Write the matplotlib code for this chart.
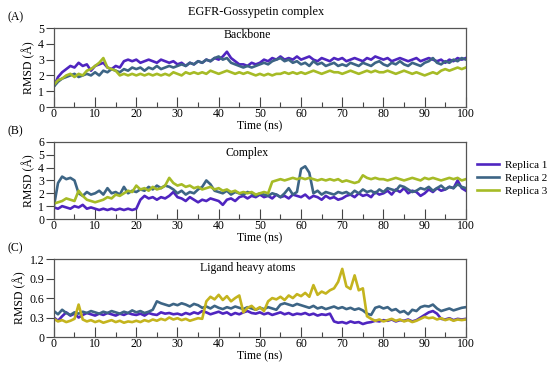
import numpy as np
import matplotlib
matplotlib.use("Agg")
import matplotlib.pyplot as plt
from matplotlib import font_manager
from matplotlib.ticker import MultipleLocator

installed = {f.name for f in font_manager.fontManager.ttflist}
serif = [n for n in ['Liberation Serif', 'Times New Roman', 'Nimbus Roman', 'DejaVu Serif']
         if n in installed]
plt.rcParams['font.family'] = serif + ['DejaVu Sans']

time = np.arange(0, 101)

# Backbone RMSD (A)
bb_r1 = [1.3, 1.9, 2.2, 2.4, 2.6, 2.5, 2.8, 2.6, 2.7, 2.3,
         2.6, 2.7, 2.8, 2.5, 2.4, 2.6, 2.5, 2.9, 3.0, 2.9,
         3.0, 2.8, 2.9, 3.0, 2.9, 2.8, 3.0, 2.9, 2.8, 2.9,
         2.7, 2.8, 2.6, 2.8, 2.7, 2.9, 2.8, 3.0, 2.9, 3.1,
         3.0, 3.2, 3.5, 3.1, 2.9, 2.7, 2.7, 2.6, 2.8, 2.7,
         2.8, 3.0, 2.9, 3.1, 3.0, 3.2, 3.0, 3.1, 3.0, 3.2,
         3.0, 3.1, 3.2, 3.0, 2.9, 3.1, 3.0, 2.9, 3.1, 3.0,
         3.1, 2.9, 3.0, 3.1, 3.0, 2.9, 3.1, 3.0, 3.2, 3.1,
         3.0, 3.1, 2.9, 3.0, 3.1, 3.0, 2.9, 3.0, 3.1, 2.9,
         3.0, 3.1, 3.0, 2.9, 3.0, 2.8, 3.0, 2.9, 3.1, 3.0,
         3.1]
bb_r2 = [1.3, 1.6, 1.8, 1.9, 2.0, 2.1, 1.9, 2.0, 2.1, 2.0,
         2.2, 2.0, 2.3, 2.2, 2.4, 2.3, 2.2, 2.4, 2.3, 2.5,
         2.4, 2.5, 2.3, 2.5, 2.4, 2.6, 2.4, 2.5, 2.6, 2.5,
         2.6, 2.7, 2.6, 2.8, 2.7, 2.9, 2.8, 3.0, 2.9, 3.1,
         3.2, 3.0, 3.1, 2.8, 2.7, 2.6, 2.5, 2.6, 2.5, 2.6,
         2.7, 2.8, 2.7, 2.9, 3.0, 3.1, 2.9, 3.0, 2.8, 2.9,
         2.7, 2.8, 2.6, 2.9, 2.7, 2.8, 2.6, 2.7, 2.8, 2.6,
         2.7, 2.6, 2.8, 2.7, 2.6, 2.8, 2.7, 2.6, 2.8, 2.9,
         2.7, 2.6, 2.8, 2.7, 2.9, 2.7, 2.6, 2.8, 2.7, 2.6,
         2.8, 2.9, 3.1, 2.8, 2.7, 2.9, 2.8, 3.0, 2.9, 3.1,
         3.0]
bb_r3 = [1.4, 1.7, 1.8, 2.0, 2.1, 1.9, 2.1, 2.0, 2.3, 2.4,
         2.6, 2.8, 3.1, 2.5, 2.4, 2.3, 2.0, 2.1, 2.0, 2.1,
         2.0, 2.1, 2.0, 2.1, 2.0, 2.1, 2.0, 2.1, 2.0, 2.2,
         2.1, 2.0, 2.2, 2.1, 2.2, 2.1, 2.2, 2.1, 2.3, 2.2,
         2.1, 2.2, 2.3, 2.2, 2.1, 2.2, 2.1, 2.2, 2.1, 2.0,
         2.1, 2.0, 2.1, 2.0, 2.1, 2.1, 2.2, 2.1, 2.2, 2.1,
         2.2, 2.1, 2.2, 2.3, 2.2, 2.1, 2.2, 2.3, 2.2, 2.2,
         2.1, 2.2, 2.3, 2.2, 2.1, 2.2, 2.3, 2.2, 2.3, 2.2,
         2.2, 2.3, 2.2, 2.1, 2.2, 2.3, 2.2, 2.1, 2.2, 2.1,
         2.0, 2.1, 2.2, 2.1, 2.3, 2.4, 2.3, 2.4, 2.5, 2.4,
         2.5]

# Complex RMSD (B)
cx_r1 = [0.9, 0.8, 1.0, 0.9, 0.8, 1.0, 0.9, 1.1, 0.8, 0.9,
         0.8, 0.7, 0.8, 0.7, 0.8, 0.7, 0.8, 0.7, 0.8, 0.7,
         0.8, 1.5, 1.8, 1.6, 1.7, 1.5, 1.7, 1.6, 1.8, 2.1,
         1.7, 1.6, 1.4, 1.7, 1.5, 1.3, 1.5, 1.4, 1.6, 1.5,
         1.4, 1.1, 1.5, 1.6, 1.4, 1.7, 1.8, 1.6, 1.8, 1.7,
         1.9, 1.7, 1.8, 1.6, 1.9, 1.7, 1.8, 1.6, 1.9, 1.8,
         1.7, 1.9, 1.6, 1.8, 1.7, 1.5, 1.8, 1.6, 1.7, 1.5,
         1.6, 1.8, 1.9, 1.7, 2.0, 1.8, 1.9, 1.7, 2.1, 1.9,
         2.0, 2.2, 1.9, 2.3, 2.1, 2.4, 2.0, 2.2, 2.1, 1.8,
         2.0, 2.3, 2.1, 2.4, 2.2, 2.3, 2.5, 2.4, 3.0, 2.4,
         2.2]
cx_r2 = [1.0, 2.8, 3.3, 3.1, 3.2, 3.0, 2.0, 1.8, 2.1, 1.9,
         2.0, 2.2, 1.9, 2.4, 2.0, 2.1, 1.9, 2.5, 2.0, 2.2,
         2.1, 2.3, 2.2, 2.5, 2.3, 2.6, 2.4, 2.6, 2.5, 2.3,
         2.0, 2.2, 1.9, 2.1, 2.0, 2.3, 2.5, 3.0, 2.7, 2.2,
         2.1, 2.0, 2.2, 1.9, 2.1, 2.0, 1.9, 2.1, 2.0, 1.8,
         2.0, 1.9, 1.8, 2.0, 1.9, 1.7, 2.0, 2.4, 1.9, 2.1,
         3.9, 4.1, 3.6, 2.0, 2.2, 1.9, 2.1, 2.0, 1.9, 2.1,
         2.0, 2.1, 1.9, 2.2, 2.0, 2.3, 2.1, 2.2, 2.0, 2.3,
         2.1, 2.4, 2.3, 2.2, 2.6, 2.5, 2.3, 2.1, 2.2, 2.4,
         2.3, 2.5, 2.2, 2.4, 2.6, 2.3, 2.5, 2.4, 2.7, 2.5,
         2.4]
cx_r3 = [1.2, 1.3, 1.4, 1.6, 1.5, 1.4, 2.2, 1.8, 1.5, 1.4,
         1.3, 1.4, 1.5, 1.7, 1.6, 1.9, 1.8, 2.0, 2.2, 2.1,
         2.6, 2.3, 2.4, 2.2, 2.5, 2.3, 2.4, 2.6, 3.2, 2.8,
         2.6, 2.7, 2.5, 2.6, 2.4, 2.5, 2.3, 2.4, 2.5, 2.3,
         2.4, 2.2, 2.3, 2.1, 2.2, 2.0, 2.1, 2.0, 2.1, 1.9,
         2.0, 2.1, 2.0, 2.9, 3.0, 3.1, 3.0, 3.1, 3.2, 3.1,
         3.2, 3.1, 3.2, 3.1, 3.0, 3.1, 3.0, 3.1, 3.0, 3.1,
         2.9, 3.0, 2.9, 2.8, 2.9, 3.4, 3.2, 3.1, 3.2, 3.1,
         3.1, 3.0, 3.1, 3.2, 3.1, 3.0, 3.1, 3.2, 3.1, 3.0,
         3.2, 3.1, 3.2, 3.1, 3.0, 3.1, 3.2, 3.1, 3.2, 3.0,
         3.1]

# Ligand heavy atoms RMSD (C)
lg_r1 = [0.30, 0.25, 0.32, 0.38, 0.33, 0.36, 0.30, 0.34, 0.37, 0.35,
         0.33, 0.36, 0.34, 0.37, 0.35, 0.33, 0.36, 0.34, 0.37, 0.35,
         0.34, 0.36, 0.33, 0.37, 0.35, 0.34, 0.38, 0.36, 0.37, 0.35,
         0.36, 0.34, 0.37, 0.35, 0.38, 0.36, 0.40, 0.38, 0.35, 0.37,
         0.39, 0.36, 0.38, 0.34, 0.37, 0.35, 0.38, 0.40, 0.37, 0.36,
         0.38, 0.35, 0.37, 0.34, 0.36, 0.38, 0.35, 0.37, 0.34, 0.36,
         0.35, 0.37, 0.34, 0.36, 0.33, 0.35, 0.34, 0.36, 0.24, 0.22,
         0.23, 0.21, 0.24, 0.22, 0.23, 0.20, 0.22, 0.23, 0.25, 0.24,
         0.26, 0.25, 0.27, 0.24, 0.26, 0.25, 0.27, 0.24, 0.26, 0.30,
         0.34, 0.38, 0.40, 0.36, 0.28, 0.27, 0.29, 0.26, 0.28, 0.27,
         0.28]
lg_r2 = [0.40, 0.35, 0.42, 0.37, 0.34, 0.38, 0.36, 0.39, 0.37, 0.40,
         0.38, 0.36, 0.39, 0.37, 0.40, 0.38, 0.36, 0.39, 0.37, 0.41,
         0.38, 0.40, 0.37, 0.39, 0.42, 0.55, 0.52, 0.50, 0.48, 0.51,
         0.49, 0.52, 0.50, 0.47, 0.51, 0.49, 0.45, 0.47, 0.44, 0.48,
         0.45, 0.43, 0.46, 0.44, 0.47, 0.45, 0.43, 0.46, 0.44, 0.42,
         0.45, 0.43, 0.46, 0.44, 0.42, 0.50, 0.52, 0.50, 0.48, 0.51,
         0.49, 0.47, 0.45, 0.48, 0.44, 0.46, 0.43, 0.45, 0.47, 0.44,
         0.46, 0.43, 0.45, 0.42, 0.44, 0.41, 0.36, 0.34, 0.45, 0.47,
         0.44, 0.46, 0.41, 0.43, 0.38, 0.40, 0.35, 0.42, 0.40, 0.46,
         0.48, 0.47, 0.50, 0.44, 0.40, 0.42, 0.44, 0.41, 0.43, 0.45,
         0.46]
lg_r3 = [0.28, 0.24, 0.26, 0.23, 0.25, 0.28, 0.50, 0.27, 0.24, 0.26,
         0.23, 0.25, 0.22, 0.24, 0.26, 0.23, 0.25, 0.22, 0.24, 0.23,
         0.25, 0.23, 0.26, 0.24, 0.27, 0.25, 0.28, 0.26, 0.30, 0.27,
         0.29, 0.26, 0.28, 0.25, 0.27, 0.29, 0.28, 0.55, 0.62, 0.58,
         0.65, 0.57, 0.63, 0.55, 0.60, 0.64, 0.38, 0.45, 0.48, 0.42,
         0.46, 0.40, 0.55, 0.60, 0.58, 0.62, 0.57, 0.64, 0.60, 0.66,
         0.63, 0.68, 0.62, 0.80, 0.65, 0.70, 0.67, 0.72, 0.75, 0.85,
         1.05, 0.78, 0.74, 0.95, 0.72, 0.75, 0.32, 0.28, 0.25, 0.27,
         0.24, 0.26, 0.28, 0.25, 0.27, 0.24, 0.26, 0.23, 0.25, 0.28,
         0.31, 0.29, 0.30, 0.27, 0.29, 0.26, 0.28, 0.25, 0.27, 0.26,
         0.27]

labels = ["Replica 1", "Replica 2", "Replica 3"]
yticks_a = [0, 1, 2, 3, 4, 5]
yticks_b = [0, 1, 2, 3, 4, 5, 6]
yticks_c = [0, 0.3, 0.6, 0.9, 1.2]
yticklabels_c = ["0", "0.3", "0.6", "0.9", "1.2"]

c1, c2, c3 = "#4f25c0", "#3d6585", "#a6bb26"

fig = plt.figure(figsize=(5.5, 3.69), dpi=100)

panels = [
    ("(A)", "Backbone", [bb_r1, bb_r2, bb_r3], [c1, c2, c3],
     yticks_a, [str(v) for v in yticks_a], [0.710, 0.214], 0.91),
    ("(B)", "Complex", [cx_r1, cx_r2, cx_r3], [c1, c2, c3],
     yticks_b, [str(v) for v in yticks_b], [0.4065, 0.209], 0.86),
    ("(C)", "Ligand heavy atoms", [lg_r1, lg_r2, lg_r3], [c1, c2, "#c4b41e"],
     yticks_c, yticklabels_c, [0.0867, 0.211], 0.885),
]

for tag, name, series, cols, yt, ytl, (b, h), ty in panels:
    ax = fig.add_axes([0.098, b, 0.749, h])
    for s, col, lab in zip(series, cols, labels):
        ax.plot(time, s, color=col, lw=1.9, label=lab)
    ax.set_xlim(0, 100)
    ax.set_ylim(yt[0], yt[-1])
    ax.xaxis.set_major_locator(MultipleLocator(10))
    ax.xaxis.set_minor_locator(MultipleLocator(5))
    ax.set_yticks(yt)
    ax.set_yticklabels(ytl)
    ax.tick_params(axis='x', which='major', direction='in', length=7, width=0.8,
                   labelsize=8.5, pad=1, colors='#444444', labelcolor='black')
    ax.tick_params(axis='x', which='minor', direction='in', length=3.5, width=0.8,
                   colors='#444444')
    ax.tick_params(axis='y', direction='out', length=6, width=0.8, labelsize=8.5,
                   pad=1, colors='#444444', labelcolor='black')
    for sp in ax.spines.values():
        sp.set_color('#555555')
        sp.set_linewidth(0.9)
    ax.set_xlabel("Time (ns)", fontsize=8.5, labelpad=0)
    ax.set_ylabel("RMSD (Å)", fontsize=8.5, labelpad=2)
    ax.text(0.47, ty, name, transform=ax.transAxes, fontsize=8.5,
            ha='center', va='center')
    fig.text(0.013, b + h + 0.03, tag, fontsize=8.5, va='center')
    if tag == "(B)":
        handles, labs = ax.get_legend_handles_labels()

fig.text(0.465, 0.967, "EGFR-Gossypetin complex", fontsize=8.8, ha='center', va='center')
fig.legend(handles, labs, loc='center left', bbox_to_anchor=(0.862, 0.518),
           frameon=False, fontsize=8, handlelength=1.9, handletextpad=0.6,
           labelspacing=0.3, borderpad=0.3, borderaxespad=0)

fig.savefig("out.png", dpi=100)
